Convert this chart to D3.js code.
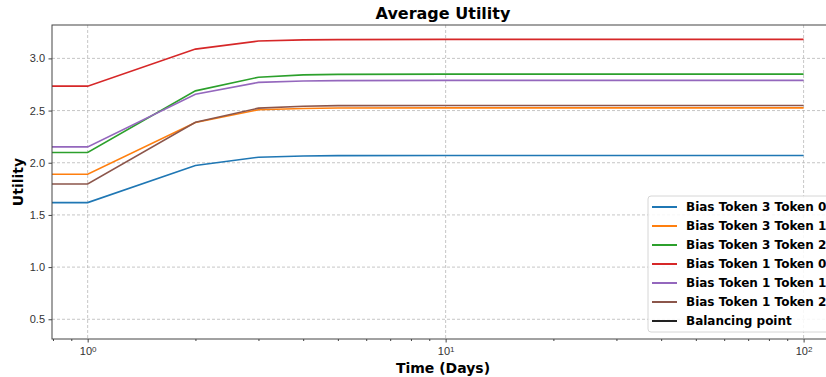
<!DOCTYPE html>
<html>
<head>
<meta charset="utf-8">
<script src="https://cdn.jsdelivr.net/npm/d3@7"></script>
<style>
  body { margin: 0; background: #fff; }
  svg { display: block; font-family: "DejaVu Sans", sans-serif; }
  .grid line { stroke: #b8b8b8; stroke-dasharray: 3,2; stroke-width: 0.8; }
  .axis text { font-size: 11px; fill: #333; }
  .axis path, .axis line { stroke: #444; }
</style>
</head>
<body>
<svg id="chart" width="826" height="377"></svg>
<script>
// data (day 0 is clipped to the left edge, like matplotlib does on log axes)
var days = [0, 1, 2, 3, 4, 5, 10, 20, 50, 100];
var seriesNames = ["Bias Token 3 Token 0", "Bias Token 3 Token 1", "Bias Token 3 Token 2",
                   "Bias Token 1 Token 0", "Bias Token 1 Token 1", "Bias Token 1 Token 2", "Balancing point"];
var colors = ["#1f77b4", "#ff7f0e", "#2ca02c", "#d62728", "#9467bd", "#8c564b", "#222222"];
var b3t0 = [1.618, 1.618, 1.973, 2.053, 2.065, 2.068, 2.069, 2.069, 2.069, 2.069];
var b3t1 = [1.890, 1.890, 2.385, 2.508, 2.520, 2.524, 2.526, 2.526, 2.526, 2.526];
var b3t2 = [2.098, 2.098, 2.689, 2.820, 2.842, 2.847, 2.849, 2.849, 2.849, 2.849];
var b1t0 = [2.734, 2.734, 3.089, 3.166, 3.177, 3.180, 3.182, 3.182, 3.182, 3.182];
var b1t1 = [2.152, 2.152, 2.657, 2.770, 2.783, 2.787, 2.789, 2.789, 2.789, 2.789];
var b1t2 = [1.797, 1.797, 2.388, 2.523, 2.541, 2.547, 2.549, 2.549, 2.549, 2.549];
var balancing = []; // listed in the legend, nothing visible in the plot
var allSeries = [b3t0, b3t1, b3t2, b1t0, b1t1, b1t2, balancing];
var yTicks = [0.5, 1.0, 1.5, 2.0, 2.5, 3.0];
var xTicks = [1, 10, 100];

var svg = d3.select("#chart");
var mLeft = 52, mRight = 834, mTop = 25, mBottom = 339;

var x = d3.scaleLog().domain([0.795, 121.6]).range([mLeft, mRight]).clamp(true);
var y = d3.scaleLinear().domain([0.311, 3.32]).range([mBottom, mTop]);

svg.append("defs").append("clipPath").attr("id", "clip")
    .append("rect").attr("x", mLeft).attr("y", mTop)
    .attr("width", mRight - mLeft).attr("height", mBottom - mTop);

// grid
var grid = svg.append("g").attr("class", "grid");
grid.selectAll(".gx").data(xTicks).enter().append("line")
    .attr("x1", function(d) { return x(d); }).attr("x2", function(d) { return x(d); })
    .attr("y1", mTop).attr("y2", mBottom);
grid.selectAll(".gy").data(yTicks).enter().append("line")
    .attr("x1", mLeft).attr("x2", mRight)
    .attr("y1", function(d) { return y(d); }).attr("y2", function(d) { return y(d); });

// lines
var line = d3.line()
    .x(function(d) { return x(d[0]); })
    .y(function(d) { return y(d[1]); });

var plot = svg.append("g").attr("clip-path", "url(#clip)");
allSeries.forEach(function(vals, i) {
    if (!vals.length) return;
    plot.append("path")
        .attr("d", line(days.map(function(d, j) { return [d, vals[j]]; })))
        .attr("fill", "none")
        .attr("stroke", colors[i])
        .attr("stroke-width", 1.6);
});

// axes
var minor = [];
for (var e = -1; e <= 2; e++) {
    for (var m = 2; m <= 9; m++) {
        var v = m * Math.pow(10, e);
        if (v >= 0.795 && v <= 121.6) minor.push(v);
    }
}
var xAxis = svg.append("g").attr("class", "axis")
    .attr("transform", "translate(0," + mBottom + ")")
    .call(d3.axisBottom(x).tickValues(xTicks).tickSize(3.5).tickPadding(5).tickFormat(""));
xAxis.select(".domain").remove();
// 10^n labels with a raised exponent
xAxis.selectAll(".tick text").each(function(d) {
    var t = d3.select(this);
    t.append("tspan").text("10");
    t.append("tspan").attr("dy", "-0.45em").attr("font-size", "8px")
        .text(Math.round(Math.log10(d)));
});
svg.append("g").attr("class", "axis")
    .attr("transform", "translate(0," + mBottom + ")")
    .call(d3.axisBottom(x).tickValues(minor).tickSize(2).tickFormat(""))
    .select(".domain").remove();

var yAxis = svg.append("g").attr("class", "axis")
    .attr("transform", "translate(" + mLeft + ",0)")
    .call(d3.axisLeft(y).tickValues(yTicks).tickSize(3.5).tickPadding(3.5)
        .tickFormat(d3.format(".1f")));
yAxis.select(".domain").remove();

// spines
svg.append("rect")
    .attr("x", mLeft).attr("y", mTop)
    .attr("width", mRight - mLeft).attr("height", mBottom - mTop)
    .attr("fill", "none").attr("stroke", "#444").attr("stroke-width", 1);

// title and labels
svg.append("text")
    .attr("x", (mLeft + mRight) / 2).attr("y", 19)
    .attr("text-anchor", "middle")
    .attr("font-weight", "bold").attr("font-size", "16px")
    .text("Average Utility");
svg.append("text")
    .attr("x", (mLeft + mRight) / 2).attr("y", 373)
    .attr("text-anchor", "middle")
    .attr("font-weight", "bold").attr("font-size", "14px")
    .text("Time (Days)");
svg.append("text")
    .attr("transform", "translate(23," + ((mTop + mBottom) / 2) + ") rotate(-90)")
    .attr("text-anchor", "middle")
    .attr("font-weight", "bold").attr("font-size", "14px")
    .text("Utility");

// legend
var legend = svg.append("g").attr("transform", "translate(648,196)");
legend.append("rect")
    .attr("width", 200).attr("height", 136).attr("rx", 3)
    .attr("fill", "#fff").attr("fill-opacity", 0.85)
    .attr("stroke", "#d6d6d6");
var items = legend.selectAll(".item").data(seriesNames).enter().append("g")
    .attr("transform", function(d, i) { return "translate(0," + (11 + i * 19) + ")"; });
items.append("line")
    .attr("x1", 4).attr("x2", 29)
    .attr("stroke", function(d, i) { return colors[i]; })
    .attr("stroke-width", 2);
items.append("text")
    .attr("x", 38).attr("dy", "0.35em")
    .attr("font-weight", "bold").attr("font-size", "12px")
    .text(function(d) { return d; });
</script>
</body>
</html>
